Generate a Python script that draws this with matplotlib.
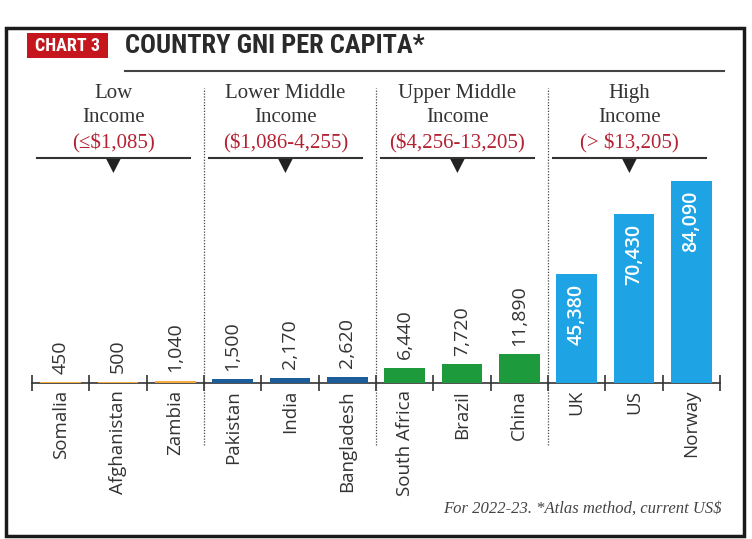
import matplotlib
matplotlib.use("Agg")
import matplotlib.pyplot as plt
from matplotlib import transforms
from matplotlib.patches import Rectangle, Polygon
import numpy as np

# ---------------- data ----------------
countries = ["Somalia", "Afghanistan", "Zambia", "Pakistan", "India", "Bangladesh",
             "South Africa", "Brazil", "China", "UK", "US", "Norway"]
gni = [450, 500, 1040, 1500, 2170, 2620, 6440, 7720, 11890, 45380, 70430, 84090]
group_of = [0, 0, 0, 1, 1, 1, 2, 2, 2, 3, 3, 3]
group_names = [["Low", "Income"], ["Lower Middle", "Income"],
               ["Upper Middle", "Income"], ["High", "Income"]]
group_ranges = ["(\u2264$1,085)", "($1,086-4,255)", "($4,256-13,205)", "(> $13,205)"]
group_colors = ["#f2ab3c", "#1c5c98", "#1c9a3c", "#1ea4e4"]
title = "COUNTRY GNI PER CAPITA*"
chart_tag = "CHART 3"
footnote = "For 2022-23. *Atlas method, current US$"

W, H = 752, 539
fig = plt.figure(figsize=(W / 100, H / 100), dpi=100)
fig.patch.set_facecolor("white")

def fx(x):
    return x / W

def fy(y):
    return 1 - y / H

SANS = ["Open Sans", "DejaVu Sans"]
SERIF = ["Liberation Serif", "DejaVu Serif"]
NARROW = ["Liberation Sans Narrow", "Roboto Condensed", "DejaVu Sans"]
DARK = "#333333"
RED = "#b52233"

# outer frame
fig.add_artist(Rectangle((fx(6), fy(536)), fx(738), (536 - 28) / H, transform=fig.transFigure,
                         fill=False, edgecolor="#1a1a1a", linewidth=2.5))

# ---------------- main axes ----------------
ax_bottom, ax_top = 383, 88
ax = fig.add_axes([fx(32), fy(ax_bottom), fx(688), (ax_bottom - ax_top) / H])
ax.set_xlim(-0.5, len(countries) - 0.5)
ax.set_ylim(0, 122800)
x = np.arange(len(countries))
colors = [group_colors[g] for g in group_of]
ax.bar(x, gni, width=0.71, color=colors, zorder=3)

for s in ["top", "left", "right"]:
    ax.spines[s].set_visible(False)
ax.spines["bottom"].set_color(DARK)
ax.spines["bottom"].set_linewidth(1.2)
ax.set_yticks([])
ax.set_xticks(np.arange(-0.5, len(countries), 1.0))
ax.set_xticklabels([])
ax.tick_params(axis="x", which="major", direction="inout", length=11, width=1.2, color=DARK)
ax.set_xticks(x, minor=True)
ax.set_xticklabels(countries, minor=True, rotation=90, fontsize=13.5, family=SANS, color=DARK)
ax.tick_params(axis="x", which="minor", length=0, pad=5)

# value labels
for i, v in enumerate(gni):
    lab = f"{v:,}"
    if group_of[i] == 3:
        ax.annotate(lab, (i, v), xytext=(0, -7), textcoords="offset points", rotation=90,
                    ha="center", va="top", color="white", fontsize=14, family=SANS,
                    fontweight="semibold", zorder=4)
    else:
        ax.annotate(lab, (i, v), xytext=(0, 6), textcoords="offset points", rotation=90,
                    ha="center", va="bottom", color=DARK, fontsize=14, family=SANS)

# dotted separators between groups
for b in range(1, len(group_names)):
    xb = group_of.index(b) - 0.5
    ax.axvline(xb, ymin=-0.21, ymax=1.0, clip_on=False, color="#444444",
               linestyle=(0, (1, 1.3)), linewidth=0.9)

# ---------------- group headers ----------------
blend = transforms.blended_transform_factory(ax.transData, fig.transFigure)
for g, names in enumerate(group_names):
    idx = [i for i, gg in enumerate(group_of) if gg == g]
    cx = np.mean(idx) - 0.08
    ax.text(cx, fy(94), names[0], transform=blend, ha="center", va="center",
            fontsize=15, family=SERIF, color=DARK)
    ax.text(cx, fy(118), names[1], transform=blend, ha="center", va="center",
            fontsize=15, family=SERIF, color=DARK)
    ax.text(cx, fy(143), group_ranges[g], transform=blend, ha="center", va="center",
            fontsize=15, family=SERIF, color=RED)
    ax.plot([cx - 1.33, cx + 1.33], [fy(158), fy(158)], transform=blend, color=DARK,
            linewidth=1.5, clip_on=False)
    # triangle marker
    half = 0.125
    tri = Polygon([[cx - half, fy(159)], [cx + half, fy(159)], [cx, fy(173)]], closed=True,
                  transform=blend, facecolor="#222222", edgecolor="none", clip_on=False)
    ax.add_patch(tri)

# ---------------- title ----------------
fig.add_artist(Rectangle((fx(27), fy(58)), fx(81), 25 / H, transform=fig.transFigure,
                         facecolor="#c4161c", edgecolor="none"))
fig.text(fx(67.5), fy(46), chart_tag, ha="center", va="center", color="white",
         fontsize=13, fontweight="bold", family=NARROW)
fig.text(fx(125), fy(46), title, ha="left", va="center", color="#2a2a2a",
         fontsize=19, fontweight="bold", family=NARROW)
fig.add_artist(plt.Line2D([fx(125), fx(724)], [fy(71), fy(71)], transform=fig.transFigure,
                          color="#444444", linewidth=1.5))

# footnote
fig.text(fx(722), fy(509), footnote, ha="right", va="center", color="#444444",
         fontsize=12, style="italic", family=SERIF)

fig.savefig("out.png", dpi=100, facecolor="white")
